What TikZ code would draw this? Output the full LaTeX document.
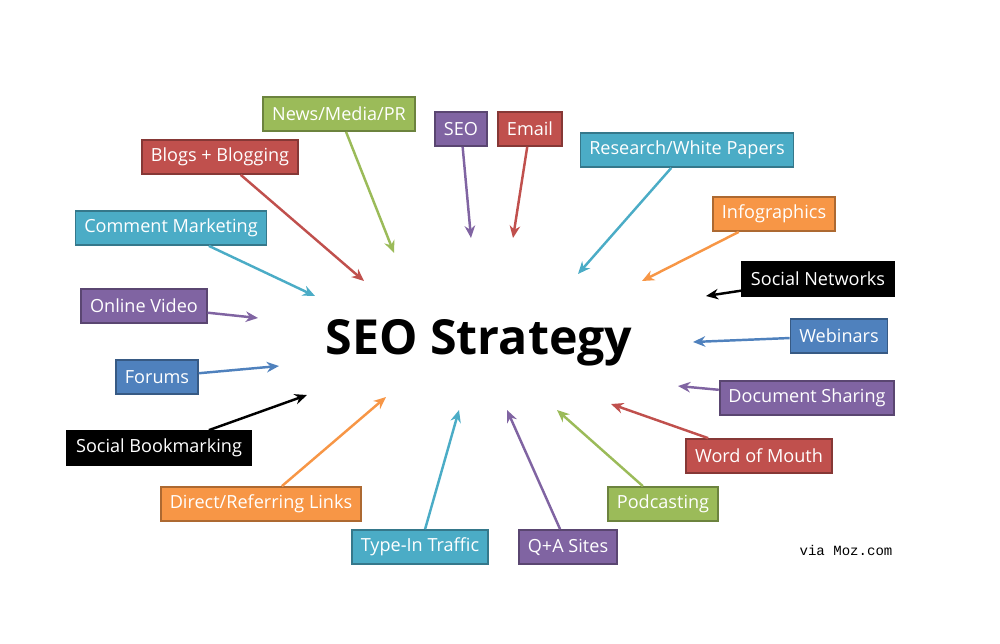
\documentclass[tikz,border=0pt]{standalone}
\usepackage{fontspec}
\setmainfont{Open Sans}
\newfontfamily\monof{Liberation Mono}
\usetikzlibrary{arrows.meta}
\definecolor{cgreen}{HTML}{9BBB59}
\definecolor{cpurple}{HTML}{8064A2}
\definecolor{cred}{HTML}{C0504D}
\definecolor{cteal}{HTML}{4BACC6}
\definecolor{corange}{HTML}{F79646}
\definecolor{cblue}{HTML}{4F81BD}
\definecolor{cblack}{HTML}{000000}
\tikzset{
 tag/.style={fill=#1, draw=#1!70!black, line width=1pt, text=white, font=\fontsize{10.3}{12}\selectfont, minimum height=0.68cm, inner xsep=5pt},
 conn/.style={draw=#1, line width=1.4pt, -{Stealth[length=7pt,width=6pt]}}
}
\begin{document}
\begin{tikzpicture}[x=0.02cm,y=-0.02cm]
\useasboundingbox (0,0) rectangle (1000,643);
\node[font=\bfseries\fontsize{27.5}{32}\selectfont] (title) at (479,343) {SEO Strategy};
\node[font=\monof\fontsize{8}{10}\selectfont] (via) at (846,550) {via Moz.com};
\foreach \n/\x/\y/\c/\t/\ex/\ey in {
 news/339/114/cgreen/News\slash Media\slash PR/394/253,
 seo/461/129/cpurple/SEO/471/238,
 email/530/129/cred/Email/513/238,
 res/687/150/cteal/Research\slash White Papers/578/274,
 blogs/220/157/cred/Blogs + Blogging/364/281,
 info/774/214/corange/Infographics/642/281,
 comm/171/228/cteal/Comment Marketing/315/296,
 socn/818/279/cblack/Social Networks/706/296,
 video/144/306/cpurple/Online Video/258/318,
 web/839/336/cblue/Webinars/693/342,
 forum/157/377/cblue/Forums/279/366,
 doc/807/398/cpurple/Document Sharing/678/386,
 bookm/159/448/cblack/Social Bookmarking/307/395,
 word/759/456/cred/Word of Mouth/611/404,
 direct/261/504/corange/Direct\slash Referring Links/386/397,
 pod/663/504/cgreen/Podcasting/557/410,
 type/420/547/cteal/Type-In Traffic/459/410,
 qa/568/547/cpurple/Q+A Sites/507/410}
{
 \node[tag=\c] (\n) at (\x,\y) {\t};
 \coordinate (\n-e) at (\ex,\ey);
 \draw[conn=\c] (\n) -- (\n-e);
}
\end{tikzpicture}
\end{document}
